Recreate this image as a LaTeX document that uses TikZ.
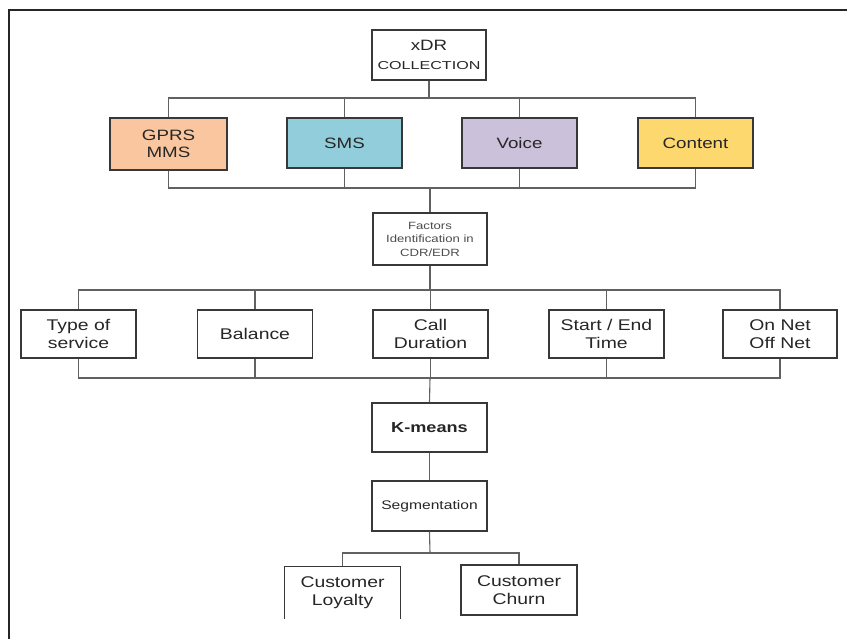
\documentclass[tikz,border=0pt]{standalone}
\usepackage{fontspec}
\setmainfont{Liberation Sans}[FakeStretch=1.25]
\newfontfamily\widerfont{Liberation Sans}[FakeStretch=1.4]
\begin{document}
\begin{tikzpicture}[x=1pt,y=-1pt,
  box/.style={draw=black!78, line width=1.3pt, text=black!85, align=center,
    inner sep=0pt, minimum width=115pt, minimum height=50pt, font=\fontsize{15}{17.5}\selectfont},
  wire/.style={draw=black!62, line width=1.1pt},
  frame/.style={draw=black!85, line width=1.4pt}]
\useasboundingbox (0,0) rectangle (847,639);
\fill[white] (0,0) rectangle (847,639);
\draw[frame] (9,639) -- (9,10) -- (847,10);

% top level
\node[box, minimum width=114pt, font=\fontsize{15}{16}\selectfont] (xdr) at (429,55)
  {xDR\\[3pt]{\widerfont\fontsize{11.5}{13}\selectfont COLLECTION}};

% record sources
\node[box, fill={rgb,255:red,249;green,198;blue,160}, minimum width=117pt, minimum height=52pt] (gprs) at (168.5,144) {GPRS\\MMS};
\node[box, fill={rgb,255:red,146;green,205;blue,220}] (sms) at (344.5,143) {SMS};
\node[box, fill={rgb,255:red,204;green,193;blue,218}] (voice) at (519.5,143) {Voice};
\node[box, fill={rgb,255:red,253;green,216;blue,110}] (content) at (695.5,143) {Content};

\node[box, minimum width=114pt, minimum height=52pt, text=black!70, font=\fontsize{10.5}{13.5}\selectfont] (factors) at (430,239)
  {Factors\\Identification in\\CDR/EDR};

% factors
\node[box, minimum height=48pt, font=\fontsize{15.5}{18.5}\selectfont] (type) at (78.5,334) {Type of\\service};
\node[box, minimum height=48pt, font=\fontsize{15.5}{18.5}\selectfont] (balance) at (255,334) {Balance};
\node[box, minimum height=48pt, font=\fontsize{15.5}{18.5}\selectfont] (call) at (430.5,334) {Call\\Duration};
\node[box, minimum height=48pt, font=\fontsize{15.5}{18.5}\selectfont] (startend) at (606.5,334) {Start / End\\Time};
\node[box, minimum width=114pt, minimum height=48pt, font=\fontsize{15.5}{18.5}\selectfont] (onnet) at (780,334) {On Net\\Off Net};

\node[box, minimum height=49pt, font=\bfseries\fontsize{14.5}{16}\selectfont] (kmeans) at (429.5,427.5) {K-means};
\node[box, font=\fontsize{12.5}{14}\selectfont] (seg) at (429.5,506) {Segmentation};

% outcomes (left box runs off the lower edge)
\node[box, draw=none, minimum height=51pt, font=\fontsize{15.5}{18.5}\selectfont] (loyal) at (342.5,592.5) {Customer\\Loyalty};
\draw[draw=black!78, line width=1.3pt] (loyal.south west) -- (loyal.north west) -- (loyal.north east) -- (loyal.south east);
\node[box, minimum width=116pt, font=\fontsize{15.5}{18.5}\selectfont] (churn) at (519,590) {Customer\\Churn};

% buses
\coordinate (b1) at (429,98);
\coordinate (b2) at (430,188);
\coordinate (b3) at (430,290);
\coordinate (b4) at (430,378);
\coordinate (b5) at (430,553);

\draw[wire] (xdr.south) -- (b1);
\draw[wire] (gprs.north) |- (b1) -| (content.north);
\draw[wire] (sms.north) -- (sms.north |- b1);
\draw[wire] (voice.north) -- (voice.north |- b1);

\draw[wire] (gprs.south) |- (b2) -| (content.south);
\draw[wire] (sms.south) -- (sms.south |- b2);
\draw[wire] (voice.south) -- (voice.south |- b2);
\draw[wire] (b2) -- (factors.north);

\draw[wire] (factors.south) -- (b3);
\draw[wire] (type.north) |- (b3) -| (onnet.north);
\draw[wire] (balance.north) -- (balance.north |- b3);
\draw[wire] (call.north) -- (call.north |- b3);
\draw[wire] (startend.north) -- (startend.north |- b3);

\draw[wire] (type.south) |- (b4) -| (onnet.south);
\draw[wire] (balance.south) -- (balance.south |- b4);
\draw[wire] (call.south) -- (call.south |- b4);
\draw[wire] (startend.south) -- (startend.south |- b4);
\draw[wire] (b4) -- (kmeans.north);

\draw[wire] (kmeans.south) -- (seg.north);
\draw[wire] (seg.south) -- (b5);
\draw[wire] (loyal.north) |- (b5) -| (churn.north);
\end{tikzpicture}
\end{document}
